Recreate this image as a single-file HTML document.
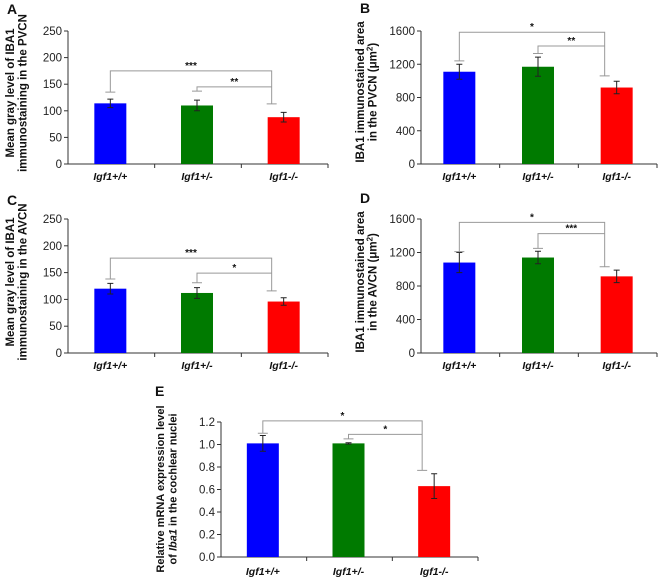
<!DOCTYPE html>
<html><head><meta charset="utf-8"><style>
body{margin:0;background:#fff;}
svg{display:block;font-family:"Liberation Sans",Arial,sans-serif;}
</style></head><body>
<svg id="fig" width="661" height="583" viewBox="0 0 661 583" xmlns="http://www.w3.org/2000/svg"></svg>
<script>
const categories = ["Igf1+/+","Igf1+/-","Igf1-/-"];
const colors = ["#0000ff","#007a00","#ff0000"];
const valuesA = [114,110,88];  const errA = [8,10,9];
const valuesB = [1110,1170,920]; const errB = [90,115,75];
const valuesC = [120,112,96];  const errC = [10,10,7];
const valuesD = [1080,1140,915]; const errD = [120,75,75];
const valuesE = [1.01,1.01,0.63]; const errE = [0.07,0.006,0.11];
const ticksAC = ["0","50","100","150","200","250"];
const ticksBD = ["0","400","800","1200","1600"];
const ticksE = ["0.0","0.2","0.4","0.6","0.8","1.0","1.2"];
// brackets: [fromCat, toCat, lineValue, leftDropValue, rightDropValue, label]
const bracketsA = [[0,2,175,135,113,"***"],[1,2,145,137,null,"**"]];
const bracketsB = [[0,2,1585,1240,1060,"*"],[1,2,1420,1330,null,"**"]];
const bracketsC = [[0,2,177,138,116,"***"],[1,2,149,131,null,"*"]];
const bracketsD = [[0,2,1560,1210,1030,"*"],[1,2,1425,1250,null,"***"]];
const bracketsE = [[0,2,1.21,1.10,0.77,"*"],[1,2,1.09,1.05,null,"*"]];

const NS="http://www.w3.org/2000/svg";
const svg=document.getElementById('fig');
function mk(tag,attrs,parent,text){const e=document.createElementNS(NS,tag);for(const k in attrs)e.setAttribute(k,attrs[k]);if(text!==undefined)e.textContent=text;(parent||svg).appendChild(e);return e;}

function panel(o){
  const g=mk('g',{});
  
  
  const x0=o.x0,x1=o.x1,yTop=o.yTop,yBot=o.yBot,max=o.max;
  const y=v=>yBot-(v/max)*(yBot-yTop);
  const gw=(x1-x0)/3;
  const cx=i=>x0+gw*(i+0.5)-1;
  const lab=mk('text',{x:o.lx,y:o.ly,'font-size':14,'font-weight':'bold',fill:'#111'},g,o.id);
  
  
  const ya=mk('line',{x1:x0,y1:yTop,x2:x0,y2:yBot,stroke:'#333','stroke-width':1},g);
  
  
  o.ticks.forEach((t,i)=>{
    const v=max*i/(o.ticks.length-1);
    mk('line',{x1:x0-4,y1:y(v),x2:x0,y2:y(v),stroke:'#333'},g);
    const tl=mk('text',{x:x0-6,y:y(v)+4,'font-size':11.5,'text-anchor':'end',fill:'#222'},g,t);
    
    
  });
  const xa=mk('line',{x1:x0,y1:yBot,x2:x1,y2:yBot,stroke:'#333'},g);
  
  
  for(let i=1;i<=3;i++){mk('line',{x1:x0+gw*i,y1:yBot,x2:x0+gw*i,y2:yBot+4,stroke:'#333'},g);}
  categories.forEach((c,i)=>{
    const v=o.vals[i],e=o.errs[i];
    const b=mk('rect',{x:cx(i)-16,y:y(v),width:32,height:yBot-y(v),fill:colors[i]},g);
    
    
    const eb=mk('path',{d:`M${cx(i)},${y(v+e)}V${y(v-e)}M${cx(i)-3},${y(v+e)}H${cx(i)+3}M${cx(i)-3},${y(v-e)}H${cx(i)+3}`,stroke:'#222','stroke-width':1,fill:'none'},g);
    
    
    const cl=mk('text',{x:cx(i),y:o.catY,'font-size':10.5,'font-weight':'bold','font-style':'italic','text-anchor':'middle',fill:'#111'},g,c);
    
    
  });
  o.brackets.forEach(br=>{
    const xl=cx(br[0]),xr=cx(br[1])-12,ly=y(br[2]);
    let d=`M${xl},${y(br[3])}V${ly}H${xr}`;
    if(br[4]!==null) d+=`V${y(br[4])}`;
    d+=`M${xl-5},${y(br[3])}H${xl+5}`;
    if(br[4]!==null) d+=`M${xr-5},${y(br[4])}H${xr+5}`;
    const p=mk('path',{d:d,stroke:'#999','stroke-width':1,fill:'none'},g);
    
    
    const s=mk('text',{x:(xl+xr)/2,y:ly-2,'font-size':10,'font-weight':'bold','text-anchor':'middle',fill:'#111'},g,br[5]);
    
    
  });
  const t=mk('text',{transform:`translate(${o.tx},${o.ty}) rotate(-90)`,'font-size':o.fs,'font-weight':'bold','text-anchor':'middle',fill:'#111'},g);
  
  
  o.title.forEach((ln,i)=>{const ts=mk('tspan',{x:0,y:i*12.5},t);ts.innerHTML=ln;});
}

panel({id:'A',x0:68,x1:328,yTop:31,yBot:164,max:250,ticks:ticksAC,vals:valuesA,errs:errA,brackets:bracketsA,catY:180,lx:7,ly:14,tx:14,ty:93,fs:11.5,
  title:['Mean gray level of IBA1','immunostaining in the PVCN']});
panel({id:'B',x0:421,x1:657,yTop:31,yBot:164,max:1600,ticks:ticksBD,vals:valuesB,errs:errB,brackets:bracketsB,catY:180,lx:360,ly:13,tx:364,ty:92,fs:11.5,
  title:['IBA1 immunostained area','in the PVCN (μm<tspan dy="-4" font-size="8">2</tspan><tspan dy="4">)</tspan>']});
panel({id:'C',x0:68,x1:328,yTop:219,yBot:353,max:250,ticks:ticksAC,vals:valuesC,errs:errC,brackets:bracketsC,catY:369,lx:7,ly:205,tx:14,ty:282,fs:11.5,
  title:['Mean gray level of IBA1','immunostaining in the AVCN']});
panel({id:'D',x0:421,x1:657,yTop:219,yBot:353,max:1600,ticks:ticksBD,vals:valuesD,errs:errD,brackets:bracketsD,catY:369,lx:360,ly:203,tx:364,ty:282,fs:11.5,
  title:['IBA1 immunostained area','in the AVCN (μm<tspan dy="-4" font-size="8">2</tspan><tspan dy="4">)</tspan>']});
panel({id:'E',x0:221,x1:478,yTop:422,yBot:557,max:1.2,ticks:ticksE,vals:valuesE,errs:errE,brackets:bracketsE,catY:575,lx:155,ly:396,tx:164,ty:489,fs:11,
  title:['Relative mRNA expression level','of <tspan font-style="italic">Iba1</tspan> in the cochlear nuclei']});
</script>
</body></html>
